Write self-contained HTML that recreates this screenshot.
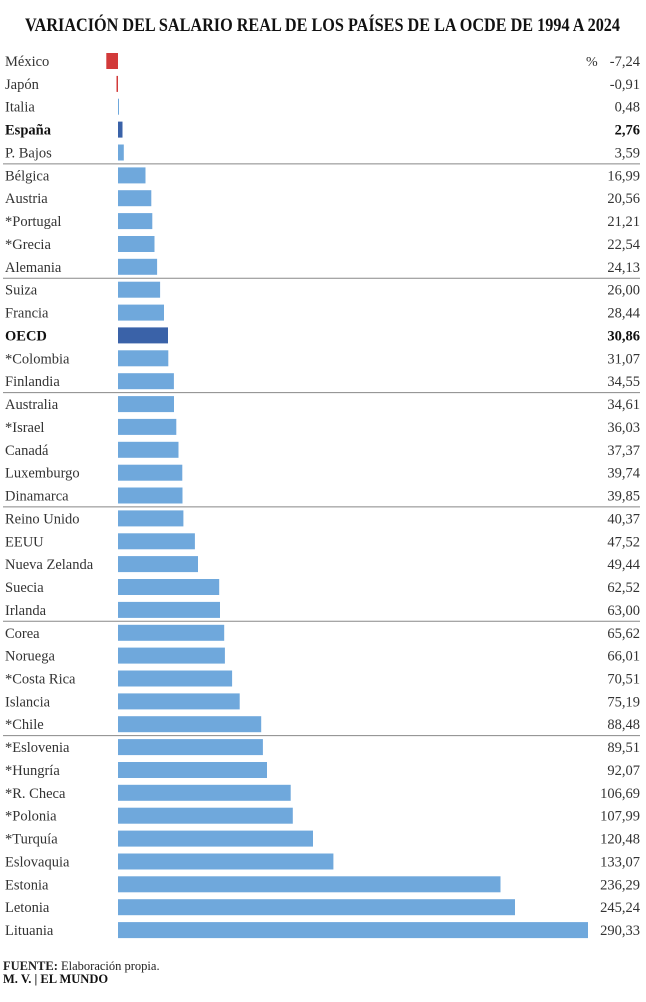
<!DOCTYPE html>
<html><head><meta charset="utf-8"><style>
html,body{margin:0;padding:0;background:#fff;}
svg{display:block;font-family:"Liberation Serif",serif;}
</style></head><body>
<svg id="s" width="646" height="1002" viewBox="0 0 646 1002" xmlns="http://www.w3.org/2000/svg">
<text x="25" y="31" font-size="19" font-weight="bold" textLength="595" lengthAdjust="spacingAndGlyphs" fill="#111">VARIACIÓN DEL SALARIO REAL DE LOS PAÍSES DE LA OCDE DE 1994 A 2024</text>
<text x="586" y="66" font-size="14" fill="#333">%</text>
<text x="3" y="970" font-size="12.5" fill="#222"><tspan font-weight="bold">FUENTE:</tspan> Elaboración propia.</text>
<text x="3" y="983" font-size="12.5" font-weight="bold" fill="#111">M. V. | EL MUNDO</text>
</svg>
<script>
var d=[["México",-7.24],["Japón",-0.91],["Italia",0.48],["España",2.76,1],["P. Bajos",3.59],
["Bélgica",16.99],["Austria",20.56],["*Portugal",21.21],["*Grecia",22.54],["Alemania",24.13],
["Suiza",26.00],["Francia",28.44],["OECD",30.86,1],["*Colombia",31.07],["Finlandia",34.55],
["Australia",34.61],["*Israel",36.03],["Canadá",37.37],["Luxemburgo",39.74],["Dinamarca",39.85],
["Reino Unido",40.37],["EEUU",47.52],["Nueva Zelanda",49.44],["Suecia",62.52],["Irlanda",63.00],
["Corea",65.62],["Noruega",66.01],["*Costa Rica",70.51],["Islancia",75.19],["*Chile",88.48],
["*Eslovenia",89.51],["*Hungría",92.07],["*R. Checa",106.69],["*Polonia",107.99],["*Turquía",120.48],
["Eslovaquia",133.07],["Estonia",236.29],["Letonia",245.24],["Lituania",290.33]];
var s=document.getElementById('s'),h='',z=118,k=470/290.33;
d.forEach(function(r,i){
 var c=61+i*22.87,v=r[1],w=Math.abs(v)*k,x=v<0?z-w:z;
 var col=v<0?'#d23a3a':(r[2]?'#3a62a8':'#6fa8dc');
 h+='<rect x="'+x.toFixed(1)+'" y="'+(c-8).toFixed(1)+'" width="'+Math.max(w,1).toFixed(1)+'" height="16" fill="'+col+'"/>';
 var fw=r[2]?' font-weight="bold" fill="#111"':' fill="#333"';
 h+='<text x="5" y="'+(c+5).toFixed(1)+'" font-size="14.5"'+fw+'>'+r[0]+'</text>';
 h+='<text x="640" y="'+(c+5).toFixed(1)+'" font-size="14.5" text-anchor="end"'+fw+'>'+v.toFixed(2).replace('.',',')+'</text>';
 if(i%5==4&&i<30){var ly=c+11.4;h+='<line x1="3" x2="640" y1="'+ly.toFixed(1)+'" y2="'+ly.toFixed(1)+'" stroke="#888" stroke-width="1"/>';}
});
s.insertAdjacentHTML('beforeend',h);
</script>
</body></html>
